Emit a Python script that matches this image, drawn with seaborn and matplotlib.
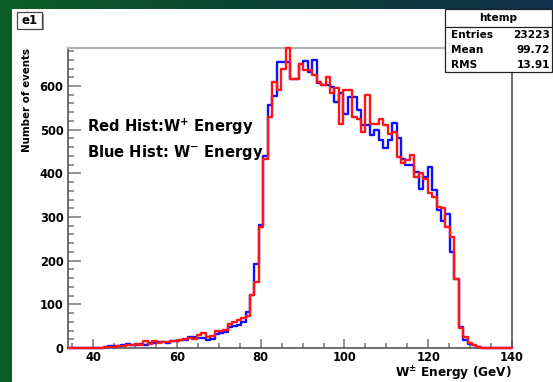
import numpy as np
import pandas as pd
import matplotlib
matplotlib.use("Agg")
import matplotlib.pyplot as plt
import seaborn as sns
from matplotlib.patches import Rectangle
from matplotlib.lines import Line2D
from matplotlib.ticker import MultipleLocator
from matplotlib.colors import LinearSegmentedColormap

# ---- binning (100 equal bins, as for the tree draw) ----
x_min, x_max, n_bins = 34.0, 140.0, 100
edges = np.linspace(x_min, x_max, n_bins + 1)
centers = 0.5 * (edges[:-1] + edges[1:])

# ---- events per bin, W+ (red) ----
w_plus = [
    0, 0, 0, 0, 0, 0, 0, 0, 2, 3,
    3, 4, 5, 6, 7, 9, 8, 15, 10, 15,
    12, 13, 14, 16, 17, 18, 20, 22, 21, 30,
    35, 25, 28, 38, 40, 42, 55, 60, 64, 68,
    73, 121, 151, 277, 432, 529, 609, 590, 640, 686,
    617, 617, 651, 636, 636, 625, 609, 603, 620, 583,
    595, 514, 590, 590, 529, 525, 495, 580, 514, 514,
    525, 510, 491, 495, 438, 423, 430, 442, 392, 400,
    388, 354, 346, 323, 320, 278, 255, 158, 45, 26,
    11, 6, 3, 1, 0, 0, 0, 0, 0, 0,
]

# ---- events per bin, W- (blue) ----
w_minus = [
    0, 0, 0, 0, 0, 0, 0, 0, 3, 4,
    4, 5, 6, 9, 7, 8, 10, 8, 11, 12,
    13, 14, 12, 15, 17, 18, 19, 26, 26, 22,
    24, 18, 20, 32, 34, 36, 47, 50, 52, 60,
    83, 121, 192, 282, 440, 556, 577, 655, 655, 655,
    617, 617, 651, 657, 632, 659, 606, 603, 603, 598,
    564, 583, 537, 575, 575, 545, 510, 510, 487, 499,
    476, 457, 476, 516, 480, 432, 419, 419, 403, 365,
    392, 415, 362, 315, 290, 308, 220, 158, 49, 18,
    9, 6, 3, 1, 0, 0, 0, 0, 0, 0,
]

stats_title = "htemp"
stats_labels = ["Entries", "Mean", "RMS"]
stats_values = ["23223", "99.72", "13.91"]

hist_df = pd.DataFrame({"energy": centers, "w_plus": w_plus, "w_minus": w_minus})
bin_edges = [float(e) for e in edges]

# ---- style ----
sns.set_style("white")
plt.rcParams["font.family"] = ["DejaVu Sans"]
plt.rcParams["mathtext.fontset"] = "dejavusans"
plt.rcParams["mathtext.default"] = "bf"
plt.rcParams["text.color"] = "black"
plt.rcParams["axes.labelcolor"] = "black"

W, H = 553, 382
fig = plt.figure(figsize=(W / 100, H / 100), dpi=100)


def fx(px):
    return px / W


def fy(py):
    return 1 - py / H


# backdrop gradient (green on the left, deep teal/blue towards the top right)
bg = fig.add_axes([0, 0, 1, 1], zorder=-10)
bg.set_axis_off()
cmap = LinearSegmentedColormap.from_list(
    "backdrop", ["#0b5e28", "#0c4a30", "#0d3b3c", "#112f4c"])
gx = np.linspace(0, 1, 300)
gy = np.linspace(0, 1, 200)[:, None]
grad = np.clip(gx[None, :] * (0.55 + 0.45 * gy), 0, 1)
bg.imshow(grad, aspect="auto", extent=[0, 1, 0, 1], cmap=cmap,
          origin="lower", vmin=0, vmax=1)
bg.set_xlim(0, 1)
bg.set_ylim(0, 1)

# white canvas
fig.add_artist(Rectangle((fx(12), 0), 1 - fx(12), fy(9), transform=fig.transFigure,
                         facecolor="white", edgecolor="none", zorder=-5))

# ---- main frame ----
ax = fig.add_axes([fx(68), fy(348), fx(512) - fx(68), fy(48) - fy(348)])
ax.set_facecolor("white")

line_kws = dict(clip_on=False, zorder=4)
sns.histplot(data=hist_df, x="energy", weights="w_minus", bins=bin_edges,
             element="step", fill=False, color="#1010ff", linewidth=1.7,
             ax=ax, **line_kws)
sns.histplot(data=hist_df, x="energy", weights="w_plus", bins=bin_edges,
             element="step", fill=False, color="#ff1515", linewidth=1.7,
             ax=ax, **line_kws)

ax.set_xlim(x_min, x_max)
ax.set_ylim(0, 687)

ax.xaxis.set_major_locator(MultipleLocator(20))
ax.xaxis.set_minor_locator(MultipleLocator(5))
ax.yaxis.set_major_locator(MultipleLocator(100))
ax.yaxis.set_minor_locator(MultipleLocator(20))

ax.tick_params(axis="both", which="both", direction="in", color="#777777",
               labelcolor="black", width=1.1, bottom=True, left=True,
               top=False, right=False)
ax.tick_params(axis="y", which="major", length=9.5, pad=3.2)
ax.tick_params(axis="y", which="minor", length=4.5)
ax.tick_params(axis="x", which="major", length=6.5, pad=2.5)
ax.tick_params(axis="x", which="minor", length=3.5)
for lab in ax.get_xticklabels() + ax.get_yticklabels():
    lab.set_fontweight("bold")
    lab.set_fontsize(8.3)

for side in ["left", "bottom", "right"]:
    ax.spines[side].set_color("#555555")
    ax.spines[side].set_linewidth(1.2)
ax.spines["top"].set_color("#b4b4b4")
ax.spines["top"].set_linewidth(1.6)

ax.set_ylabel("Number of events", fontsize=7.4, fontweight="bold", loc="top")
ax.yaxis.set_label_coords((32 - 68) / 444, 1.0)
ax.set_xlabel(r"W$^{\pm}$ Energy (GeV)", fontsize=8.7, fontweight="bold", loc="right")
ax.xaxis.set_label_coords(1.0, -(378 - 348) / 300)
ax.xaxis.label.set_va("baseline")

ax.text((87 - 68) / 444, (348 - 131.7) / 300, r"Red Hist:W$^{+}$ Energy",
        transform=ax.transAxes, fontsize=10.6, fontweight="bold", va="baseline")
ax.text((87 - 68) / 444, (348 - 156.7) / 300, r"Blue Hist: W$^{-}$ Energy",
        transform=ax.transAxes, fontsize=10.6, fontweight="bold", va="baseline")

# ---- pad title box ----
fig.add_artist(Rectangle((fx(18.5), fy(30)), fx(43.5) - fx(18.5), fy(13.5) - fy(30),
                         transform=fig.transFigure, facecolor="#9a9a9a",
                         edgecolor="none", zorder=5))
fig.add_artist(Rectangle((fx(17), fy(28.5)), fx(42) - fx(17), fy(12) - fy(28.5),
                         transform=fig.transFigure, facecolor="white",
                         edgecolor="#444444", linewidth=0.9, zorder=6))
fig.text(fx(29.5), fy(20.5), "e1", fontsize=8.5, fontweight="bold",
         ha="center", va="center", zorder=7)

# ---- statistics box ----
fig.add_artist(Rectangle((fx(445), fy(72)), fx(552) - fx(445), fy(9) - fy(72),
                         transform=fig.transFigure, facecolor="white",
                         edgecolor="#222222", linewidth=0.9, zorder=5))
fig.add_artist(Line2D([fx(445), fx(552)], [fy(26.5), fy(26.5)],
                      transform=fig.transFigure, color="#222222", linewidth=0.9,
                      zorder=6))
fig.text(fx(498), fy(17.8), stats_title, fontsize=7.6, fontweight="bold",
         ha="center", va="center", zorder=7)
for i, (lab, val) in enumerate(zip(stats_labels, stats_values)):
    yc = 34.8 + 15.3 * i
    fig.text(fx(451), fy(yc), lab, fontsize=7.6, fontweight="bold",
             ha="left", va="center", zorder=7)
    fig.text(fx(550), fy(yc), val, fontsize=7.6, fontweight="bold",
             ha="right", va="center", zorder=7)

fig.savefig("out.png", dpi=100)
